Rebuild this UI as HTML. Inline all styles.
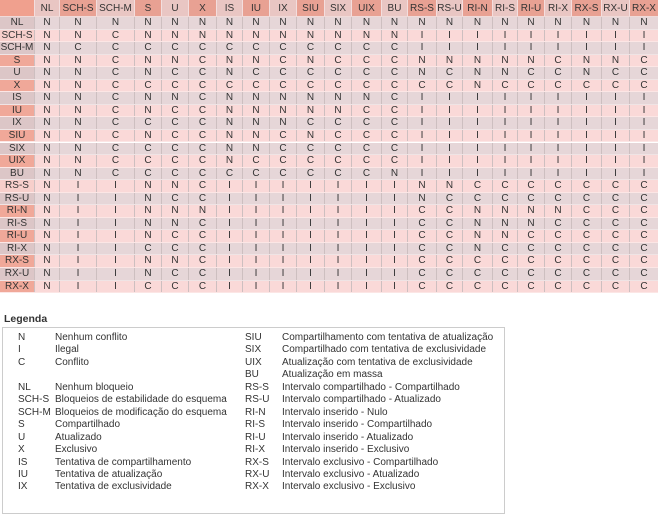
<!DOCTYPE html>
<html><head><meta charset="utf-8"><style>
body{margin:0;width:658px;height:518px;background:#fff;font-family:"Liberation Sans","DejaVu Sans",sans-serif;font-size:10px;color:#333;position:relative;overflow:hidden}
.r{position:absolute;left:0;width:658px;height:12.55px;display:flex;line-height:12.55px;border-bottom:1px solid rgba(255,255,255,.35);box-sizing:border-box}
.r span{display:block;text-align:center;box-sizing:border-box;border-right:1px solid #cdbfc0;height:100%;overflow:hidden;white-space:nowrap}
.r span:nth-child(1){width:35px}.r span:nth-child(2){width:25px}.r span:nth-child(3){width:37px}.r span:nth-child(4){width:38px}
.r span:nth-child(5){width:27px}.r span:nth-child(6){width:27px}.r span:nth-child(7){width:28px}.r span:nth-child(8){width:26px}
.r span:nth-child(9){width:27px}.r span:nth-child(10){width:27px}.r span:nth-child(11){width:28px}.r span:nth-child(12){width:27px}
.r span:nth-child(13){width:30px}.r span:nth-child(14){width:26px}.r span:nth-child(15){width:29px}.r span:nth-child(16){width:26px}
.r span:nth-child(17){width:30px}.r span:nth-child(18){width:25px}.r span:nth-child(19){width:27px}.r span:nth-child(20){width:27px}
.r span:nth-child(21){width:30px}.r span:nth-child(22){width:28px}.r span:nth-child(23){width:28px;border-right:none}
.r.h{top:0;height:17px;line-height:17px;background:#e9c6c3}
.h span{border-right:1px solid #f3dede}
.h span:nth-child(odd){background:#e8a193}
.h span:nth-child(1){background:#f0a08e}
.g{background:#e6d6d8}.p{background:#fad9d8}
.g span:first-child{background:#dcc6c7}
.p span:first-child{background:#f0a899}
.p.l span:first-child{background:#f7cfcb}
.lt{position:absolute;left:4px;top:313px;font-weight:bold;font-size:10.5px}
.box{position:absolute;left:2px;top:327px;width:503px;height:187px;border:1px solid #ccc;box-sizing:border-box}
.k{position:absolute;font-size:10px;line-height:12.46px;white-space:nowrap}
</style></head><body>
<div class="r h"><span></span><span>NL</span><span>SCH-S</span><span>SCH-M</span><span>S</span><span>U</span><span>X</span><span>IS</span><span>IU</span><span>IX</span><span>SIU</span><span>SIX</span><span>UIX</span><span>BU</span><span>RS-S</span><span>RS-U</span><span>RI-N</span><span>RI-S</span><span>RI-U</span><span>RI-X</span><span>RX-S</span><span>RX-U</span><span>RX-X</span></div>
<div class="r g" style="top:17px"><span>NL</span><span>N</span><span>N</span><span>N</span><span>N</span><span>N</span><span>N</span><span>N</span><span>N</span><span>N</span><span>N</span><span>N</span><span>N</span><span>N</span><span>N</span><span>N</span><span>N</span><span>N</span><span>N</span><span>N</span><span>N</span><span>N</span><span>N</span></div>
<div class="r p l" style="top:29.55px"><span>SCH-S</span><span>N</span><span>N</span><span>C</span><span>N</span><span>N</span><span>N</span><span>N</span><span>N</span><span>N</span><span>N</span><span>N</span><span>N</span><span>N</span><span>I</span><span>I</span><span>I</span><span>I</span><span>I</span><span>I</span><span>I</span><span>I</span><span>I</span></div>
<div class="r g" style="top:42.1px"><span>SCH-M</span><span>N</span><span>C</span><span>C</span><span>C</span><span>C</span><span>C</span><span>C</span><span>C</span><span>C</span><span>C</span><span>C</span><span>C</span><span>C</span><span>I</span><span>I</span><span>I</span><span>I</span><span>I</span><span>I</span><span>I</span><span>I</span><span>I</span></div>
<div class="r p" style="top:54.65px"><span>S</span><span>N</span><span>N</span><span>C</span><span>N</span><span>N</span><span>C</span><span>N</span><span>N</span><span>C</span><span>N</span><span>C</span><span>C</span><span>C</span><span>N</span><span>N</span><span>N</span><span>N</span><span>N</span><span>C</span><span>N</span><span>N</span><span>C</span></div>
<div class="r g" style="top:67.2px"><span>U</span><span>N</span><span>N</span><span>C</span><span>N</span><span>C</span><span>C</span><span>N</span><span>C</span><span>C</span><span>C</span><span>C</span><span>C</span><span>C</span><span>N</span><span>C</span><span>N</span><span>N</span><span>C</span><span>C</span><span>N</span><span>C</span><span>C</span></div>
<div class="r p" style="top:79.75px"><span>X</span><span>N</span><span>N</span><span>C</span><span>C</span><span>C</span><span>C</span><span>C</span><span>C</span><span>C</span><span>C</span><span>C</span><span>C</span><span>C</span><span>C</span><span>C</span><span>N</span><span>C</span><span>C</span><span>C</span><span>C</span><span>C</span><span>C</span></div>
<div class="r g" style="top:92.3px"><span>IS</span><span>N</span><span>N</span><span>C</span><span>N</span><span>N</span><span>C</span><span>N</span><span>N</span><span>N</span><span>N</span><span>N</span><span>N</span><span>C</span><span>I</span><span>I</span><span>I</span><span>I</span><span>I</span><span>I</span><span>I</span><span>I</span><span>I</span></div>
<div class="r p" style="top:104.85px"><span>IU</span><span>N</span><span>N</span><span>C</span><span>N</span><span>C</span><span>C</span><span>N</span><span>N</span><span>N</span><span>N</span><span>N</span><span>C</span><span>C</span><span>I</span><span>I</span><span>I</span><span>I</span><span>I</span><span>I</span><span>I</span><span>I</span><span>I</span></div>
<div class="r g" style="top:117.4px"><span>IX</span><span>N</span><span>N</span><span>C</span><span>C</span><span>C</span><span>C</span><span>N</span><span>N</span><span>N</span><span>C</span><span>C</span><span>C</span><span>C</span><span>I</span><span>I</span><span>I</span><span>I</span><span>I</span><span>I</span><span>I</span><span>I</span><span>I</span></div>
<div class="r p" style="top:129.95px"><span>SIU</span><span>N</span><span>N</span><span>C</span><span>N</span><span>C</span><span>C</span><span>N</span><span>N</span><span>C</span><span>N</span><span>C</span><span>C</span><span>C</span><span>I</span><span>I</span><span>I</span><span>I</span><span>I</span><span>I</span><span>I</span><span>I</span><span>I</span></div>
<div class="r g" style="top:142.5px"><span>SIX</span><span>N</span><span>N</span><span>C</span><span>C</span><span>C</span><span>C</span><span>N</span><span>N</span><span>C</span><span>C</span><span>C</span><span>C</span><span>C</span><span>I</span><span>I</span><span>I</span><span>I</span><span>I</span><span>I</span><span>I</span><span>I</span><span>I</span></div>
<div class="r p" style="top:155.05px"><span>UIX</span><span>N</span><span>N</span><span>C</span><span>C</span><span>C</span><span>C</span><span>N</span><span>C</span><span>C</span><span>C</span><span>C</span><span>C</span><span>C</span><span>I</span><span>I</span><span>I</span><span>I</span><span>I</span><span>I</span><span>I</span><span>I</span><span>I</span></div>
<div class="r g" style="top:167.6px"><span>BU</span><span>N</span><span>N</span><span>C</span><span>C</span><span>C</span><span>C</span><span>C</span><span>C</span><span>C</span><span>C</span><span>C</span><span>C</span><span>N</span><span>I</span><span>I</span><span>I</span><span>I</span><span>I</span><span>I</span><span>I</span><span>I</span><span>I</span></div>
<div class="r p l" style="top:180.15px"><span>RS-S</span><span>N</span><span>I</span><span>I</span><span>N</span><span>N</span><span>C</span><span>I</span><span>I</span><span>I</span><span>I</span><span>I</span><span>I</span><span>I</span><span>N</span><span>N</span><span>C</span><span>C</span><span>C</span><span>C</span><span>C</span><span>C</span><span>C</span></div>
<div class="r g" style="top:192.7px"><span>RS-U</span><span>N</span><span>I</span><span>I</span><span>N</span><span>C</span><span>C</span><span>I</span><span>I</span><span>I</span><span>I</span><span>I</span><span>I</span><span>I</span><span>N</span><span>C</span><span>C</span><span>C</span><span>C</span><span>C</span><span>C</span><span>C</span><span>C</span></div>
<div class="r p" style="top:205.25px"><span>RI-N</span><span>N</span><span>I</span><span>I</span><span>N</span><span>N</span><span>N</span><span>I</span><span>I</span><span>I</span><span>I</span><span>I</span><span>I</span><span>I</span><span>C</span><span>C</span><span>N</span><span>N</span><span>N</span><span>N</span><span>C</span><span>C</span><span>C</span></div>
<div class="r g" style="top:217.8px"><span>RI-S</span><span>N</span><span>I</span><span>I</span><span>N</span><span>N</span><span>C</span><span>I</span><span>I</span><span>I</span><span>I</span><span>I</span><span>I</span><span>I</span><span>C</span><span>C</span><span>N</span><span>N</span><span>N</span><span>C</span><span>C</span><span>C</span><span>C</span></div>
<div class="r p" style="top:230.35px"><span>RI-U</span><span>N</span><span>I</span><span>I</span><span>N</span><span>C</span><span>C</span><span>I</span><span>I</span><span>I</span><span>I</span><span>I</span><span>I</span><span>I</span><span>C</span><span>C</span><span>N</span><span>N</span><span>C</span><span>C</span><span>C</span><span>C</span><span>C</span></div>
<div class="r g" style="top:242.9px"><span>RI-X</span><span>N</span><span>I</span><span>I</span><span>C</span><span>C</span><span>C</span><span>I</span><span>I</span><span>I</span><span>I</span><span>I</span><span>I</span><span>I</span><span>C</span><span>C</span><span>N</span><span>C</span><span>C</span><span>C</span><span>C</span><span>C</span><span>C</span></div>
<div class="r p" style="top:255.45px"><span>RX-S</span><span>N</span><span>I</span><span>I</span><span>N</span><span>N</span><span>C</span><span>I</span><span>I</span><span>I</span><span>I</span><span>I</span><span>I</span><span>I</span><span>C</span><span>C</span><span>C</span><span>C</span><span>C</span><span>C</span><span>C</span><span>C</span><span>C</span></div>
<div class="r g" style="top:268px"><span>RX-U</span><span>N</span><span>I</span><span>I</span><span>N</span><span>C</span><span>C</span><span>I</span><span>I</span><span>I</span><span>I</span><span>I</span><span>I</span><span>I</span><span>C</span><span>C</span><span>C</span><span>C</span><span>C</span><span>C</span><span>C</span><span>C</span><span>C</span></div>
<div class="r p" style="top:280.55px"><span>RX-X</span><span>N</span><span>I</span><span>I</span><span>C</span><span>C</span><span>C</span><span>I</span><span>I</span><span>I</span><span>I</span><span>I</span><span>I</span><span>I</span><span>C</span><span>C</span><span>C</span><span>C</span><span>C</span><span>C</span><span>C</span><span>C</span><span>C</span></div>

<div class="lt">Legenda</div>
<div class="box"></div>
<div class="k" style="left:18px;top:332px">N<br>I<br>C<br>&nbsp;<br>NL<br>SCH-S<br>SCH-M<br>S<br>U<br>X<br>IS<br>IU<br>IX</div>
<div class="k" style="left:55px;top:332px">Nenhum conflito<br>Ilegal<br>Conflito<br>&nbsp;<br>Nenhum bloqueio<br>Bloqueios de estabilidade do esquema<br>Bloqueios de modificação do esquema<br>Compartilhado<br>Atualizado<br>Exclusivo<br>Tentativa de compartilhamento<br>Tentativa de atualização<br>Tentativa de exclusividade</div>
<div class="k" style="left:245px;top:332px">SIU<br>SIX<br>UIX<br>BU<br>RS-S<br>RS-U<br>RI-N<br>RI-S<br>RI-U<br>RI-X<br>RX-S<br>RX-U<br>RX-X</div>
<div class="k" style="left:282px;top:332px">Compartilhamento com tentativa de atualização<br>Compartilhado com tentativa de exclusividade<br>Atualização com tentativa de exclusividade<br>Atualização em massa<br>Intervalo compartilhado - Compartilhado<br>Intervalo compartilhado - Atualizado<br>Intervalo inserido - Nulo<br>Intervalo inserido - Compartilhado<br>Intervalo inserido - Atualizado<br>Intervalo inserido - Exclusivo<br>Intervalo exclusivo - Compartilhado<br>Intervalo exclusivo - Atualizado<br>Intervalo exclusivo - Exclusivo</div>
</body></html>
